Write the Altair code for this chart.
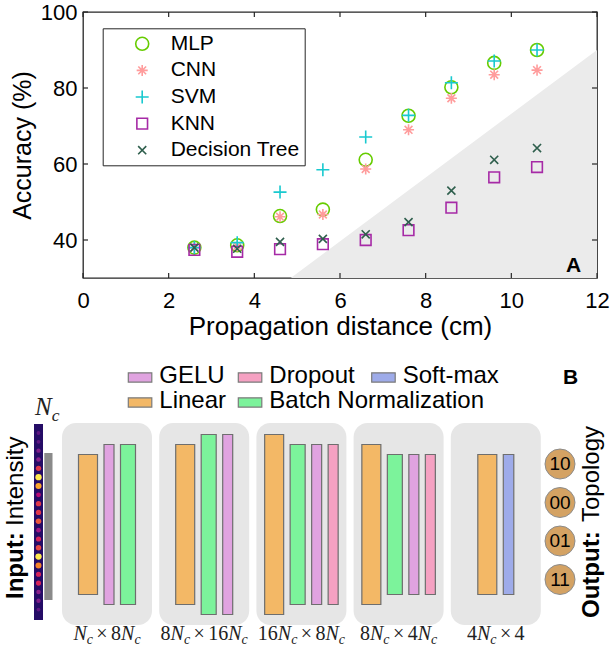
import altair as alt
import pandas as pd

SANS = "Liberation Sans"
SERIF = "Liberation Serif"

# ---------------- Panel A: accuracy vs. propagation distance ----------------
distance = [2.6, 3.6, 4.6, 5.6, 6.6, 7.6, 8.6, 9.6, 10.6]
acc_mlp = [38.0, 38.6, 46.3, 48.0, 61.1, 72.7, 80.2, 86.6, 90.0]
acc_cnn = [38.0, 38.4, 46.1, 46.7, 58.7, 69.0, 77.3, 83.5, 84.7]
acc_svm = [38.0, 39.3, 52.6, 58.5, 67.1, 72.8, 81.4, 87.1, 90.0]
acc_knn = [37.4, 36.9, 37.6, 38.9, 40.0, 42.6, 48.5, 56.5, 59.2]
acc_tree = [38.0, 37.7, 39.5, 40.3, 41.5, 44.7, 53.0, 61.1, 64.2]

models = ["MLP", "CNN", "SVM", "KNN", "Decision Tree"]
model_colors = ["#66cc00", "#ff9c9c", "#19c9cf", "#a62aa6", "#2f5f4d"]
model_shapes = [
    "circle",
    "M-0.85,0L0.85,0M0,-0.85L0,0.85M-0.6,-0.6L0.6,0.6M-0.6,0.6L0.6,-0.6",
    "M-1,0L1,0M0,-1L0,1",
    "M-0.82,-0.82L0.82,-0.82L0.82,0.82L-0.82,0.82Z",
    "M-0.62,-0.62L0.62,0.62M-0.62,0.62L0.62,-0.62",
]

x_ticks = [0, 2, 4, 6, 8, 10, 12]
y_ticks = [40, 60, 80, 100]

# shaded region below the separating line
shade_x = [4.85, 12.0]
shade_y = [30.0, 90.0]

# ---------------- Panel B: network topology ----------------
layer_fill = {
    "Linear": "#f3b866",
    "GELU": "#e0a3e0",
    "Dropout": "#f5a1c2",
    "Batch Normalization": "#7cf39b",
    "Soft-max": "#9eabe9",
}
layer_width = {"Linear": 19, "GELU": 10, "Dropout": 10,
               "Batch Normalization": 15, "Soft-max": 10.5}

block_layers = [
    ["Linear", "GELU", "Batch Normalization"],
    ["Linear", "Batch Normalization", "GELU"],
    ["Linear", "Batch Normalization", "GELU", "Dropout"],
    ["Linear", "Batch Normalization", "GELU", "Dropout"],
    ["Linear", "Soft-max"],
]
block_heights = [[7, 8, 8], [8, 9, 9], [9, 8, 8, 8], [8, 7, 7, 7], [7, 7]]
block_labels = ["N_c×8N_c", "8N_c×16N_c", "16N_c×8N_c", "8N_c×4N_c", "4N_c×4"]

legend_rows = [["GELU", "Dropout", "Soft-max"], ["Linear", "Batch Normalization"]]
topology_classes = ["10", "00", "01", "11"]
input_intensity = [0.15, 0.15, 0.3, 0.35, 0.6, 1.0, 0.9, 0.45, 0.6, 0.6, 0.7,
                   0.4, 0.55, 0.65, 1.0, 0.85, 0.55, 0.55, 0.35, 0.3, 0.15]

# ---------------- page geometry ----------------
PAGE_W, PAGE_H = 610, 656
PLOT_X0, PLOT_Y0 = 83, 12
PLOT_W, PLOT_H = 514, 266

BOX_X0, BOX_PITCH, BOX_W = 62, 97.2, 90
BOX_TOP, BOX_BOTTOM = 423, 625
BAR_MID, UNIT, BAR_GAP = 524.5, 20, 6.5

# ---------------- tables ----------------
acc_rows = []
for k, (name, vals) in enumerate(zip(models, [acc_mlp, acc_cnn, acc_svm, acc_knn, acc_tree])):
    for d, v in zip(distance, vals):
        acc_rows.append({"model": name, "rank": k, "distance": d, "accuracy": v})
acc_df = pd.DataFrame(acc_rows)
shade_df = pd.DataFrame({"x": shade_x, "y": shade_y, "base": [30.0, 30.0]})

box_rows, bar_rows = [], []
for b, (kinds, hts) in enumerate(zip(block_layers, block_heights)):
    left = BOX_X0 + b * BOX_PITCH
    cx = left + BOX_W / 2
    box_rows.append(dict(x0=left, x1=left + BOX_W, y0=BOX_TOP, y1=BOX_BOTTOM))
    total = sum(layer_width[k] for k in kinds) + BAR_GAP * (len(kinds) - 1)
    x = cx - total / 2
    for kind, h in zip(kinds, hts):
        bar_rows.append(dict(x0=x, x1=x + layer_width[kind],
                             y0=BAR_MID - h * UNIT / 2, y1=BAR_MID + h * UNIT / 2,
                             fill=layer_fill[kind]))
        x += layer_width[kind] + BAR_GAP
box_df = pd.DataFrame(box_rows)
bar_df = pd.DataFrame(bar_rows)

# legend of panel B
sw_x = [128.3, 238.3, 371.7]
sw_base = [383.3, 408.3]
leg_sw, leg_txt = [], []
for r, row in enumerate(legend_rows):
    for c, name in enumerate(row):
        leg_sw.append(dict(x0=sw_x[c], x1=sw_x[c] + 23.5, y0=sw_base[r] - 10.5,
                           y1=sw_base[r] - 1.2, fill=layer_fill[name]))
        leg_txt.append(dict(x=sw_x[c] + 31.0, y=sw_base[r], text=name))
leg_sw_df = pd.DataFrame(leg_sw)
leg_txt_df = pd.DataFrame(leg_txt)

# math labels (italic N, subscript c, upright digits and ×)
GLYPH_EM = {"N": 0.667, "c": 0.444, "×": 0.564}
for dgt in "0123456789":
    GLYPH_EM[dgt] = 0.5
OP_SPACE = 0.17


def math_pieces(expr, x_anchor, baseline, size, centered=True):
    out, x, i = [], 0.0, 0
    while i < len(expr):
        ch = expr[i]
        if ch == "_":
            sub = expr[i + 1]
            fs = size * 0.7
            out.append(dict(text=sub, x=x, y=baseline + size * 0.22, fs=fs, it=True))
            x += GLYPH_EM[sub] * fs
            i += 2
            continue
        if ch == "×":
            x += OP_SPACE * size
            out.append(dict(text=ch, x=x, y=baseline, fs=size, it=False))
            x += (GLYPH_EM[ch] + OP_SPACE) * size
        else:
            out.append(dict(text=ch, x=x, y=baseline, fs=size, it=ch.isalpha()))
            x += GLYPH_EM[ch] * size
        i += 1
    shift = x_anchor - x / 2 if centered else x_anchor
    for p in out:
        p["x"] += shift
    return out


math_rows = []
for b, lab in enumerate(block_labels):
    math_rows += math_pieces(lab, BOX_X0 + b * BOX_PITCH + BOX_W / 2, 640, 20)
math_rows += math_pieces("N_c", 35, 415, 25, centered=False)
math_df = pd.DataFrame(math_rows)

strip_df = pd.DataFrame({"x": [38.5] * len(input_intensity),
                         "y": [433 + 8.83 * k for k in range(len(input_intensity))],
                         "v": input_intensity})
out_df = pd.DataFrame({"x": [560] * 4, "y": [464 + 38.5 * k for k in range(4)],
                       "text": topology_classes})

# ---------------- panel A chart ----------------
xs = alt.Scale(domain=[0, 12], nice=False, zero=False)
ys = alt.Scale(domain=[30, 100], nice=False, zero=False)
ax_x = alt.Axis(title="Propagation distance (cm)", values=x_ticks, ticks=False, domain=False,
                grid=False, labelFontSize=22, titleFontSize=26, labelPadding=12,
                titlePadding=2, labelFlush=False, titleFontWeight="normal",
                labelColor="black", titleColor="black")
ax_y = alt.Axis(title="Accuracy (%)", values=y_ticks, ticks=False, domain=False,
                grid=False, labelFontSize=22, titleFontSize=25, labelPadding=6,
                titlePadding=5, titleFontWeight="normal",
                labelColor="black", titleColor="black")

shade = alt.Chart(shade_df).mark_area(color="#ebebeb").encode(
    x=alt.X("x:Q", scale=xs, axis=ax_x),
    y=alt.Y("y:Q", scale=ys, axis=ax_y),
    y2="base:Q",
)

xt_df = pd.DataFrame({"t": x_ticks})
yt_df = pd.DataFrame({"t": y_ticks})
tick_style = dict(color="#262626", strokeWidth=1.2)
ticks_bottom = alt.Chart(xt_df).mark_rule(**tick_style).encode(
    x=alt.X("t:Q", scale=xs, axis=ax_x), y=alt.value(PLOT_H), y2=alt.value(PLOT_H - 5))
ticks_top = alt.Chart(xt_df).mark_rule(**tick_style).encode(
    x=alt.X("t:Q", scale=xs, axis=ax_x), y=alt.value(0), y2=alt.value(5))
ticks_left = alt.Chart(yt_df).mark_rule(**tick_style).encode(
    y=alt.Y("t:Q", scale=ys, axis=ax_y), x=alt.value(0), x2=alt.value(5))
ticks_right = alt.Chart(yt_df).mark_rule(**tick_style).encode(
    y=alt.Y("t:Q", scale=ys, axis=ax_y), x=alt.value(PLOT_W), x2=alt.value(PLOT_W - 5))

leg = alt.Legend(title=None, orient="none", legendX=19.7, legendY=16.3,
                 strokeColor="#262626", fillColor="white", padding=5,
                 labelFontSize=21, labelFont=SANS, labelColor="black",
                 symbolSize=169, symbolStrokeWidth=1.6, symbolOffset=24,
                 labelOffset=18, rowPadding=4.6, labelLimit=300)

points = alt.Chart(acc_df).mark_point(filled=False, size=169, strokeWidth=1.6, opacity=1).encode(
    x=alt.X("distance:Q", scale=xs, axis=ax_x),
    y=alt.Y("accuracy:Q", scale=ys, axis=ax_y),
    color=alt.Color("model:N", scale=alt.Scale(domain=models, range=model_colors), legend=leg),
    shape=alt.Shape("model:N", scale=alt.Scale(domain=models, range=model_shapes), legend=leg),
    order=alt.Order("rank:Q"),
)

panel_a = alt.layer(shade, ticks_bottom, ticks_top, ticks_left, ticks_right, points)

# ---------------- panel B chart (page coordinates) ----------------
bx = alt.Scale(domain=[0, PAGE_W], range=[-PLOT_X0, PAGE_W - PLOT_X0], nice=False, zero=False)
by = alt.Scale(domain=[0, PAGE_H], range=[-PLOT_Y0, PAGE_H - PLOT_Y0], nice=False, zero=False)


def PX(f):
    return alt.X(f, type="quantitative", scale=bx, axis=None)


def PY(f):
    return alt.Y(f, type="quantitative", scale=by, axis=None)


frame = alt.Chart(pd.DataFrame({"x0": [0], "x1": [PAGE_W], "y0": [0], "y1": [PAGE_H]})).mark_rect(
    opacity=0).encode(x=PX("x0"), x2="x1:Q", y=PY("y0"), y2="y1:Q")

letters = alt.Chart(pd.DataFrame({"x": [566, 563], "y": [272, 384], "text": ["A", "B"]})).mark_text(
    font=SANS, fontSize=21, fontWeight="bold", align="left", baseline="alphabetic", color="black"
).encode(x=PX("x"), y=PY("y"), text="text:N")

legend_sw = alt.Chart(leg_sw_df).mark_rect(stroke="#7a7a7a", strokeWidth=1.2).encode(
    x=PX("x0"), x2="x1:Q", y=PY("y0"), y2="y1:Q", color=alt.Color("fill:N", scale=None))
legend_tx = alt.Chart(leg_txt_df).mark_text(
    font=SANS, fontSize=24, align="left", baseline="alphabetic", color="black"
).encode(x=PX("x"), y=PY("y"), text="text:N")

boxes = alt.Chart(box_df).mark_rect(color="#e6e6e6", cornerRadius=14).encode(
    x=PX("x0"), x2="x1:Q", y=PY("y0"), y2="y1:Q")
bars = alt.Chart(bar_df).mark_rect(stroke="#6e6e6e", strokeWidth=1.2).encode(
    x=PX("x0"), x2="x1:Q", y=PY("y0"), y2="y1:Q", color=alt.Color("fill:N", scale=None))

math_it = alt.Chart(math_df[math_df["it"]]).mark_text(
    font=SERIF, fontStyle="italic", align="left", baseline="alphabetic", color="#222222"
).encode(x=PX("x"), y=PY("y"), text="text:N", size=alt.Size("fs:Q", scale=None))
math_rm = alt.Chart(math_df[~math_df["it"]]).mark_text(
    font=SERIF, align="left", baseline="alphabetic", color="#222222"
).encode(x=PX("x"), y=PY("y"), text="text:N", size=alt.Size("fs:Q", scale=None))

strip_bg = alt.Chart(pd.DataFrame({"x0": [34], "x1": [43], "y0": [424], "y1": [620]})).mark_rect(
    color="#250c66").encode(x=PX("x0"), x2="x1:Q", y=PY("y0"), y2="y1:Q")
strip_dots = alt.Chart(strip_df).mark_circle(opacity=1).encode(
    x=PX("x"), y=PY("y"),
    color=alt.Color("v:Q", scale=alt.Scale(domain=[0, 0.35, 0.6, 0.85, 1],
                                           range=["#3a1178", "#8a1f8a", "#e0384a", "#f5832a", "#ffe94f"]),
                    legend=None),
    size=alt.Size("v:Q", scale=alt.Scale(domain=[0, 1], range=[10, 40]), legend=None),
)
input_bar = alt.Chart(pd.DataFrame({"x0": [44.3], "x1": [52.5], "y0": [453], "y1": [600]})).mark_rect(
    color="#8a8a8a").encode(x=PX("x0"), x2="x1:Q", y=PY("y0"), y2="y1:Q")

side_bold = alt.Chart(pd.DataFrame({"x": [23, 599], "y": [599, 618], "text": ["Input:", "Output:"]})).mark_text(
    font=SANS, fontSize=24, fontWeight="bold", angle=270, align="left", baseline="alphabetic", color="black"
).encode(x=PX("x"), y=PY("y"), text="text:N")
side_norm = alt.Chart(pd.DataFrame({"x": [23, 599], "y": [526, 522], "text": ["Intensity", "Topology"]})).mark_text(
    font=SANS, fontSize=24, angle=270, align="left", baseline="alphabetic", color="black"
).encode(x=PX("x"), y=PY("y"), text="text:N")

out_circles = alt.Chart(out_df).mark_circle(size=900, color="#d4a263", opacity=1,
                                            stroke="#8c8c8c", strokeWidth=1).encode(
    x=PX("x"), y=PY("y"))
out_text = alt.Chart(out_df).mark_text(font=SANS, fontSize=19, color="black", baseline="middle").encode(
    x=PX("x"), y=PY("y"), text="text:N")

panel_b = alt.layer(frame, letters, legend_sw, legend_tx, boxes, bars, math_it, math_rm,
                    strip_bg, strip_dots, input_bar, side_bold, side_norm, out_circles, out_text)

chart = alt.layer(panel_a, panel_b).resolve_scale(
    x="independent", y="independent", color="independent", size="independent", shape="independent"
).properties(
    width=PLOT_W, height=PLOT_H, padding=0, background="white"
).configure(font=SANS).configure_view(stroke="#262626", strokeWidth=1.3)

chart.save("out.html", embed_options={"renderer": "svg", "actions": False})
